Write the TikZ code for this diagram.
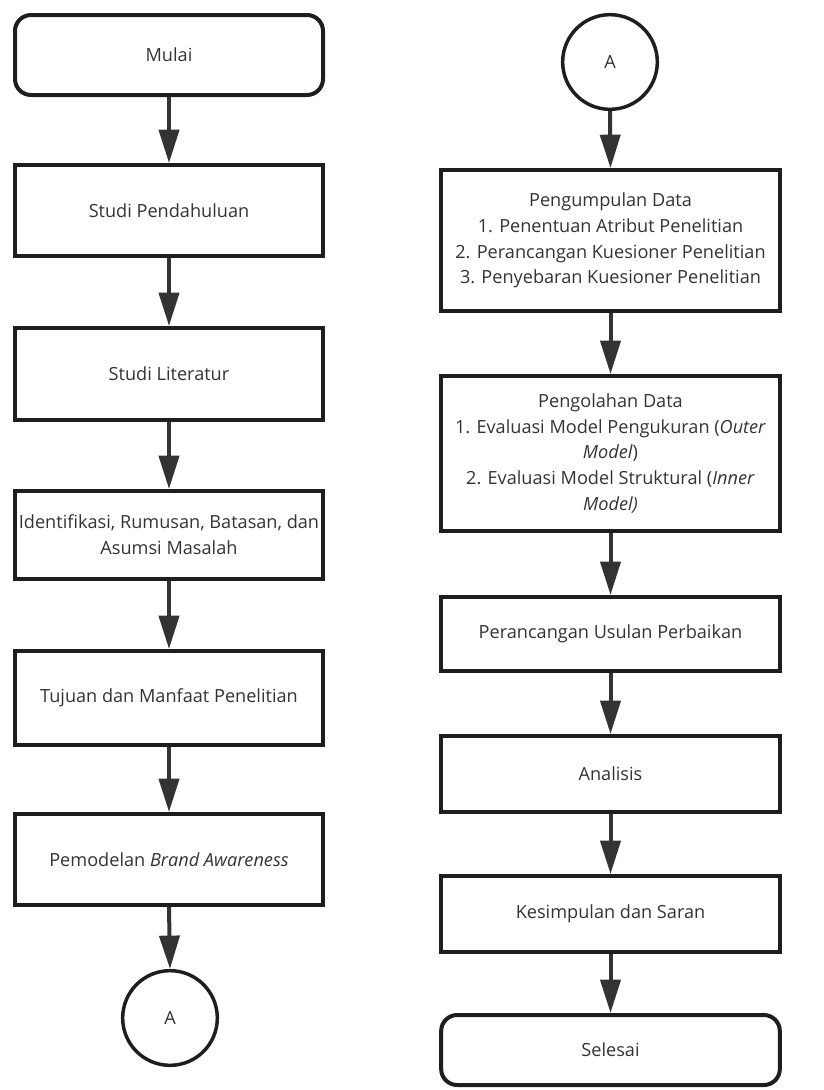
\documentclass[tikz,border=0pt]{standalone}
\usepackage{fontspec}
\setmainfont{Open Sans}
\usepackage{tikz}
\usetikzlibrary{positioning, shapes, arrows.meta, calc}

\definecolor{txtgray}{HTML}{333333}
\definecolor{linegray}{HTML}{1E1E1E}

\begin{document}
\begin{tikzpicture}[x=0.75pt, y=-0.75pt,
    box/.style={rectangle, draw=linegray, line width=3pt, align=center, inner sep=1pt,
                text=txtgray, font=\fontsize{13.6}{19.3}\selectfont},
    terminal/.style={box, rounded corners=12pt},
    connector/.style={circle, draw=linegray, line width=2.6pt, minimum size=71pt, inner sep=0pt,
                text=txtgray, font=\fontsize{13.6}{19.3}\selectfont},
    arrow/.style={draw=txtgray, line width=3pt, -{Triangle[length=25pt, width=15pt]}}]
                  \useasboundingbox (0,0) rectangle (824,1090);

                  % Nodes (left column)
                  \node[terminal, minimum width=231pt, minimum height=60pt] (mulai) at (169,55) {Mulai};
                  \node[box, minimum width=231pt, minimum height=68.25pt] (pendahuluan) at (169,210.5) {Studi Pendahuluan};
                  \node[box, minimum width=231pt, minimum height=69pt] (literatur) at (169,374) {Studi Literatur};
                  \node[box, minimum width=231pt, minimum height=66pt] (identifikasi) at (169,535) {Identifikasi, Rumusan, Batasan, dan\\Asumsi Masalah};
                  \node[box, minimum width=231pt, minimum height=70.5pt] (tujuan) at (169,698) {Tujuan dan Manfaat Penelitian};
                  \node[box, minimum width=231pt, minimum height=68.25pt] (pemodelan) at (169,859.5) {Pemodelan \textit{Brand Awareness}};
                  \node[connector] (akhirA) at (170,1018) {A};

                  % Nodes (right column)
                  \node[connector] (awalA) at (610,62) {A};
                  \node[box, minimum width=254pt, minimum height=105.75pt] (kumpul) at (610.5,240.5)
                      {Pengumpulan Data\\1. Penentuan Atribut Penelitian\\2. Perancangan Kuesioner Penelitian\\3. Penyebaran Kuesioner Penelitian};
                  \node[box, minimum width=254pt, minimum height=116.25pt] (olah) at (610.5,453.5)
                      {Pengolahan Data\\1. Evaluasi Model Pengukuran (\textit{Outer}\\\textit{Model})\\2. Evaluasi Model Struktural (\textit{Inner}\\\textit{Model)}};
                  \node[box, minimum width=254pt, minimum height=55.5pt] (rancang) at (610.5,634) {Perancangan Usulan Perbaikan};
                  \node[box, minimum width=254pt, minimum height=57pt] (analisis) at (610.5,774) {Analisis};
                  \node[box, minimum width=254pt, minimum height=57pt] (simpulan) at (610.5,914) {Kesimpulan dan Saran};
                  \node[terminal, minimum width=254pt, minimum height=52.5pt] (selesai) at (610.5,1050) {Selesai};

                  % Arrows
                  \foreach \a/\b in {mulai/pendahuluan, pendahuluan/literatur, literatur/identifikasi,
                                     identifikasi/tujuan, tujuan/pemodelan, pemodelan/akhirA,
                                     awalA/kumpul, kumpul/olah, olah/rancang, rancang/analisis,
                                     analisis/simpulan, simpulan/selesai}
                  \draw[arrow] (\a.south) -- (\b.north);
              \end{tikzpicture}
\end{document}
